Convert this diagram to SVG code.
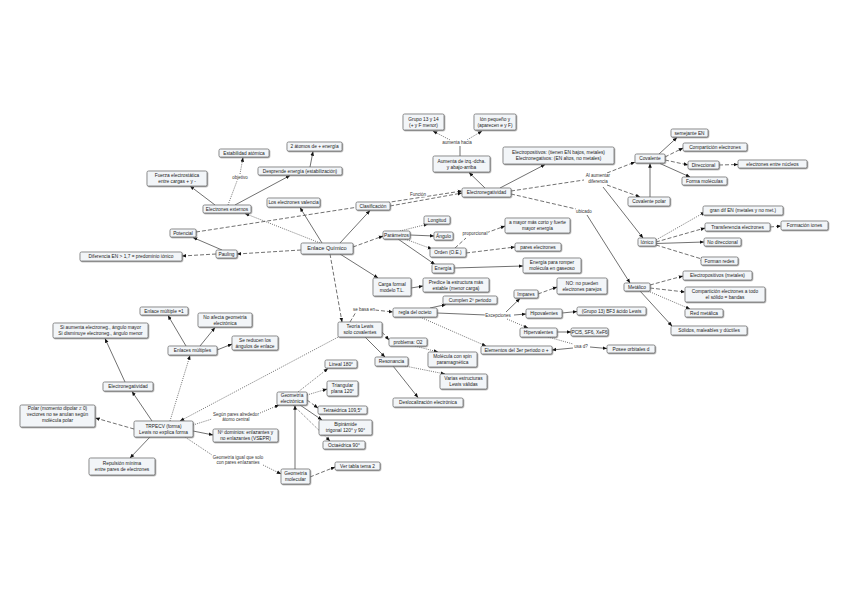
<svg xmlns="http://www.w3.org/2000/svg" width="848" height="599" viewBox="0 0 848 599">
<defs>
<marker id="a" viewBox="0 0 10 10" refX="9.5" refY="5" markerWidth="4.5" markerHeight="4.5" markerUnits="userSpaceOnUse" orient="auto"><path d="M0,1 L10,5 L0,9z" fill="#111"/></marker>
<filter id="sh" x="-10%" y="-20%" width="130%" height="160%"><feDropShadow dx="0.7" dy="0.8" stdDeviation="0.35" flood-color="#777" flood-opacity="0.8"/></filter>
<style>
.n rect{fill:#f2f5f8;stroke:#666;stroke-width:0.7;filter:url(#sh)}
.n text,.l{font-family:"Liberation Sans",Arial,sans-serif;font-size:4.8px;fill:#222;text-anchor:middle}
.l{font-size:4.5px;fill:#333;paint-order:stroke;stroke:#fff;stroke-width:1.4px}
#c path{fill:none;stroke:#333;stroke-width:0.7}
#c .d{stroke-dasharray:4 2}
#c .o{stroke-dasharray:1 1.2}
#c .m{marker-end:url(#a)}
</style>
</defs>
<rect width="848" height="599" fill="#fff"/>

<g id="c">
<path class="m" d="M485,188 L469,172.5"/>
<path d="M460,156 L460,146"/>
<path class="o m" d="M450,140 L433,131"/>
<path class="o m" d="M467,140 L482,131"/>
<path class="m" d="M500,188 L545,164.5"/>
<path class="d m" d="M196,232 L462,191"/>
<path class="d m" d="M390,206 L462,193"/>
<path class="d" d="M511,191 L584,180"/>
<path class="d m" d="M607,173 L635,162"/>
<path class="d m" d="M607,185 L640,197"/>
<path class="m" d="M603,187 L643,238"/>
<path class="d" d="M511,194 L576,209"/>
<path class="m" d="M587,215 L630,283"/>
<path class="m" d="M650,197 L650,163.5"/>
<path class="m" d="M659,154 L677,137.5"/>
<path class="d m" d="M665,157 L683,148"/>
<path class="d m" d="M665,160 L688,165"/>
<path class="m" d="M660,163.5 L690,177"/>
<path class="d m" d="M719,165 L738,164.5"/>
<path class="o m" d="M656,240 L705,212"/>
<path class="d m" d="M656,242 L705,228"/>
<path class="m" d="M656,243.5 L704,242"/>
<path class="d m" d="M656,245 L705,260"/>
<path class="d m" d="M770,227 L781,226"/>
<path class="d m" d="M650,285 L683,276"/>
<path class="d m" d="M650,288 L685,292"/>
<path class="o m" d="M648,291 L690,309"/>
<path class="m" d="M640,291 L672,326"/>

<path class="o m" d="M320,243 L245,213.5"/>
<path class="m" d="M322,243 L300,207.5"/>
<path class="m" d="M340,243 L370,210.5"/>
<path class="d m" d="M301,250 L237,254"/>
<path class="d m" d="M353,247 L383,236"/>
<path class="m" d="M340,254 L378,278"/>
<path class="d m" d="M330,254 L342,322"/>
<path class="m" d="M215,205 L190,186"/>
<path class="o" d="M228,205 L237,181"/>
<path class="o m" d="M240,174 L243,157.5"/>
<path class="m" d="M235,205 L290,175.5"/>
<path class="m" d="M310,167 L313,151.5"/>
<path class="m" d="M222,250 L193,237.5"/>
<path class="d m" d="M216,254 L182,256"/>
<path class="o m" d="M400,231 L428,224"/>
<path class="m" d="M410,235 L434,236"/>
<path class="o m" d="M405,239 L432,249"/>
<path class="m" d="M398,239 L435,264.5"/>
<path class="d" d="M455,248 L466,238"/>
<path class="d m" d="M486,233 L505,226"/>
<path class="d m" d="M466,253 L515,247"/>
<path class="m" d="M454,268 L523,266"/>
<path class="m" d="M411,288 L423,286"/>
<path class="d" d="M350,322 L356,312"/>
<path class="d m" d="M375,310 L393,312"/>
<path class="m" d="M430,308 L446,304.5"/>
<path d="M437,313 L486,315"/>
<path class="m" d="M506,312 L520,298.5"/>
<path class="m" d="M514,315 L526,314"/>
<path class="o m" d="M507,319 L528,328"/>
<path class="o m" d="M420,317 L486,346"/>
<path class="d m" d="M538,294 L557,287"/>
<path class="m" d="M562,313 L577,311.5"/>
<path class="m" d="M557,332 L571,332"/>
<path class="o" d="M548,337 L573,344"/>
<path class="m" d="M590,347 L607,348.5"/>
<path class="m" d="M573,348 L552,350"/>
<path class="d m" d="M382,332 L389,340"/>
<path class="o m" d="M415,346 L438,352"/>
<path class="m" d="M365,337 L385,357"/>
<path class="o m" d="M405,366 L445,374"/>
<path class="m" d="M393,366 L418,397.5"/>
<path class="o m" d="M342,335 L180,421"/>

<path class="m" d="M152,421 L132,391.5"/>
<path class="o m" d="M170,421 L190,355.5"/>
<path class="d m" d="M134,429 L95.5,418"/>
<path class="m" d="M150,437 L130,458"/>
<path class="o" d="M193,425 L212,419"/>
<path class="o m" d="M260,413 L279,405"/>
<path class="m" d="M193,431 L213,435"/>
<path class="o" d="M185,437 L212,455"/>
<path class="o m" d="M263,465 L281,474"/>
<path class="m" d="M125,382 L105,338.5"/>
<path class="m" d="M186,346 L168,315.5"/>
<path class="m" d="M200,346 L215,327.5"/>
<path class="m" d="M217,350 L232,344"/>
<path class="o m" d="M298,392 L328,368.5"/>
<path class="o m" d="M307,395 L327,389"/>
<path class="d m" d="M307,400 L318,408"/>
<path class="m" d="M300,405 L322,420"/>
<path class="o m" d="M293,405 L330,441"/>
<path class="m" d="M295,469 L295,405.5"/>
<path class="d m" d="M310,477 L335,467"/>
</g>

<g id="labels">
<text class="l" x="457" y="143.5">aumenta hacia</text>
<text class="l" x="418" y="195.5">Función</text>
<text class="l" x="598" y="177">Al aumentar</text>
<text class="l" x="598" y="183">diferencia</text>
<text class="l" x="584" y="212.5">ubicado</text>
<text class="l" x="240" y="178.5">objetivo</text>
<text class="l" x="475" y="235">proporcional</text>
<text class="l" x="364" y="310.5">se basa en</text>
<text class="l" x="498" y="317">Excepciones</text>
<text class="l" x="581" y="348">usa d?</text>
<text class="l" x="236" y="415.5">Según pares alrededor</text>
<text class="l" x="236" y="421.3">átomo central</text>
<text class="l" x="238" y="458.5">Geometría igual que solo</text>
<text class="l" x="238" y="464.3">con pares enlazantes</text>
</g>

<g id="n-grupo" class="n"><rect x="403" y="114" width="41" height="16" rx="1.5"/><text x="423.5" y="120.8">Grupo 13 y 14</text><text x="423.5" y="126.6">(+ y F menor)</text></g>
<g id="n-ion" class="n"><rect x="474" y="114" width="42" height="16" rx="1.5"/><text x="495" y="120.8">Ión pequeño y</text><text x="495" y="126.6">(aparecen e y F)</text></g>
<g id="n-aumenta" class="n"><rect x="433" y="156" width="57" height="16" rx="1.5"/><text x="461.5" y="162.8">Aumenta de izq.-dcha.</text><text x="461.5" y="168.6">y abajo-arriba</text></g>
<g id="n-electro" class="n"><rect x="503" y="147" width="111" height="17" rx="1.5"/><text x="558.5" y="154.3">Electropositivos: (tienen EN bajos, metales)</text><text x="558.5" y="160.1">Electronegativos: (EN altos, no metales)</text></g>
<g id="n-en" class="n"><rect x="462" y="188" width="49" height="9" rx="1.5"/><text x="486.5" y="194.2">Electronegatividad</text></g>
<g id="n-cov" class="n"><rect x="635" y="154" width="30" height="9" rx="1.5"/><text x="650" y="160.2">Covalente</text></g>
<g id="n-covpol" class="n"><rect x="628" y="197" width="42" height="9" rx="1.5"/><text x="649" y="203.2">Covalente polar</text></g>
<g id="n-semej" class="n"><rect x="671" y="129" width="37" height="8" rx="1.5"/><text x="689.5" y="134.7">semejante EN</text></g>
<g id="n-compart" class="n"><rect x="683" y="143" width="64" height="8" rx="1.5"/><text x="715" y="148.7">Compartición electrones</text></g>
<g id="n-direc" class="n"><rect x="688" y="161" width="31" height="8" rx="1.5"/><text x="703.5" y="166.7">Direccional</text></g>
<g id="n-nucleos" class="n"><rect x="738" y="160" width="69" height="8" rx="1.5"/><text x="772.5" y="165.7">electrones entre núcleos</text></g>
<g id="n-formamol" class="n"><rect x="682" y="177" width="45" height="8" rx="1.5"/><text x="704.5" y="182.7">Forma moléculas</text></g>
<g id="n-ionico" class="n"><rect x="638" y="238" width="18" height="8" rx="1.5"/><text x="647" y="243.7">Iónico</text></g>
<g id="n-gran" class="n"><rect x="703" y="206" width="80" height="9" rx="1.5"/><text x="743" y="212.2">gran dif EN (metales y no met.)</text></g>
<g id="n-transf" class="n"><rect x="705" y="223" width="65" height="8" rx="1.5"/><text x="737.5" y="228.7">Transferencia electrones</text></g>
<g id="n-iones" class="n"><rect x="781" y="221" width="47" height="9" rx="1.5"/><text x="804.5" y="227.2">Formación iones</text></g>
<g id="n-nodir" class="n"><rect x="704" y="238" width="37" height="8" rx="1.5"/><text x="722.5" y="243.7">No direccional</text></g>
<g id="n-redes" class="n"><rect x="701" y="257" width="37" height="8" rx="1.5"/><text x="719.5" y="262.7">Forman redes</text></g>
<g id="n-metal" class="n"><rect x="624" y="283" width="26" height="8" rx="1.5"/><text x="637" y="288.7">Metálico</text></g>
<g id="n-elpos" class="n"><rect x="683" y="271" width="69" height="9" rx="1.5"/><text x="717.5" y="277.2">Electropositivos (metales)</text></g>
<g id="n-bandas" class="n"><rect x="685" y="287" width="80" height="15" rx="1.5"/><text x="725" y="293.3">Compartición electrones a todo</text><text x="725" y="299.1">el sólido = bandas</text></g>
<g id="n-nube" class="n"><rect x="685" y="309" width="38" height="8" rx="1.5"/><text x="704" y="314.7">Red metálica</text></g>
<g id="n-solidos" class="n"><rect x="671" y="326" width="76" height="9" rx="1.5"/><text x="709" y="332.2">Sólidos, maleables y dúctiles</text></g>

<g id="n-eq" class="n"><rect x="301" y="243" width="52" height="11" rx="1.5"/><text x="327" y="250.3" style="font-size:5.6px">Enlace Químico</text></g>
<g id="n-clasif" class="n"><rect x="356" y="202" width="34" height="8" rx="1.5"/><text x="373" y="207.7">Clasificación</text></g>
<g id="n-valencia" class="n"><rect x="267" y="198" width="53" height="9" rx="1.5"/><text x="293.5" y="204.2">Los electrones valencia</text></g>
<g id="n-externos" class="n"><rect x="203" y="205" width="48" height="8" rx="1.5"/><text x="227" y="210.7">Electrones externos</text></g>
<g id="n-estab" class="n"><rect x="219" y="149" width="50" height="8" rx="1.5"/><text x="244" y="154.7">Estabilidad atómica</text></g>
<g id="n-2atomos" class="n"><rect x="287" y="142" width="55" height="9" rx="1.5"/><text x="314.5" y="148.2">2 átomos de + energía</text></g>
<g id="n-fuerza" class="n"><rect x="147" y="171" width="60" height="15" rx="1.5"/><text x="177" y="177.3">Fuerza electrostática</text><text x="177" y="183.1">entre cargas + y -</text></g>
<g id="n-desp" class="n"><rect x="258" y="167" width="84" height="8" rx="1.5"/><text x="300" y="172.7">Desprende energía (estabilización)</text></g>
<g id="n-pot" class="n"><rect x="170" y="229" width="26" height="8" rx="1.5"/><text x="183" y="234.7">Potencial</text></g>
<g id="n-pauling" class="n"><rect x="216" y="250" width="21" height="8" rx="1.5"/><text x="226.5" y="255.7">Pauling</text></g>
<g id="n-dif" class="n"><rect x="80" y="252" width="102" height="9" rx="1.5"/><text x="131" y="258.2">Diferencia EN &gt; 1,7 = predominio iónico</text></g>
<g id="n-param" class="n"><rect x="383" y="231" width="27" height="8" rx="1.5"/><text x="396.5" y="236.7">Parámetros</text></g>
<g id="n-long" class="n"><rect x="424" y="216" width="26" height="8" rx="1.5"/><text x="437" y="221.7">Longitud</text></g>
<g id="n-ang" class="n"><rect x="434" y="232" width="19" height="8" rx="1.5"/><text x="443.5" y="237.7">Ángulo</text></g>
<g id="n-orden" class="n"><rect x="430" y="248" width="36" height="9" rx="1.5"/><text x="448" y="254.2">Orden (O.E.)</text></g>
<g id="n-energia" class="n"><rect x="432" y="264" width="22" height="9" rx="1.5"/><text x="443" y="270.2">Energía</text></g>
<g id="n-amayor" class="n"><rect x="505" y="218" width="65" height="15" rx="1.5"/><text x="537.5" y="224.3">a mayor más corto y fuerte</text><text x="537.5" y="230.1">mayor energía</text></g>
<g id="n-pares" class="n"><rect x="515" y="243" width="46" height="8" rx="1.5"/><text x="538" y="248.7">pares electrones</text></g>
<g id="n-eromper" class="n"><rect x="523" y="258" width="58" height="15" rx="1.5"/><text x="552" y="264.3">Energía para romper</text><text x="552" y="270.1">molécula en gaseoso</text></g>
<g id="n-carga" class="n"><rect x="373" y="278" width="38" height="18" rx="1.5"/><text x="392" y="285.8">Carga formal</text><text x="392" y="291.6">modelo T.L.</text></g>
<g id="n-predice" class="n"><rect x="423" y="278" width="66" height="14" rx="1.5"/><text x="456" y="283.8">Predice la estructura más</text><text x="456" y="289.6">estable (menor carga)</text></g>
<g id="n-cumplen" class="n"><rect x="443" y="296" width="54" height="8" rx="1.5"/><text x="470" y="301.7">Cumplen 2º periodo</text></g>
<g id="n-octeto" class="n"><rect x="393" y="308" width="44" height="9" rx="1.5"/><text x="415" y="314.2">regla del octeto</text></g>
<g id="n-lewis" class="n"><rect x="338" y="322" width="44" height="15" rx="1.5"/><text x="360" y="328.3">Teoría Lewis</text><text x="360" y="334.1">solo covalentes</text></g>
<g id="n-impares" class="n"><rect x="514" y="290" width="24" height="8" rx="1.5"/><text x="526" y="295.7">Impares</text></g>
<g id="n-nopueden" class="n"><rect x="557" y="278" width="50" height="16" rx="1.5"/><text x="582" y="284.8">NO: no pueden</text><text x="582" y="290.6">electrones parejos</text></g>
<g id="n-hipo" class="n"><rect x="526" y="309" width="36" height="9" rx="1.5"/><text x="544" y="315.2">Hipovalentes</text></g>
<g id="n-bf3" class="n"><rect x="577" y="307" width="69" height="8" rx="1.5"/><text x="611.5" y="312.7">(Grupo 13) BF3 ácido Lewis</text></g>
<g id="n-hiper" class="n"><rect x="520" y="328" width="37" height="9" rx="1.5"/><text x="538.5" y="334.2">Hipervalentes</text></g>
<g id="n-pcl5" class="n"><rect x="571" y="328" width="37" height="8" rx="1.5"/><text x="589.5" y="333.7">PCl5, SF6, XeF6</text></g>
<g id="n-orbd" class="n"><rect x="607" y="345" width="48" height="8" rx="1.5"/><text x="631" y="350.7">Posee orbitales d</text></g>
<g id="n-3per" class="n"><rect x="481" y="346" width="71" height="8" rx="1.5"/><text x="516.5" y="351.7">Elementos del 3er periodo o +</text></g>
<g id="n-probo2" class="n"><rect x="389" y="338" width="38" height="8" rx="1.5"/><text x="408" y="343.7">problema: O2</text></g>
<g id="n-molec" class="n"><rect x="428" y="352" width="49" height="15" rx="1.5"/><text x="452.5" y="358.3">Molécula con spin</text><text x="452.5" y="364.1">paramagnética</text></g>
<g id="n-reson" class="n"><rect x="375" y="357" width="33" height="9" rx="1.5"/><text x="391.5" y="363.2">Resonancia</text></g>
<g id="n-varias" class="n"><rect x="440" y="374" width="47" height="15" rx="1.5"/><text x="463.5" y="380.3">Varias estructuras</text><text x="463.5" y="386.1">Lewis válidas</text></g>
<g id="n-desloc" class="n"><rect x="393" y="398" width="70" height="9" rx="1.5"/><text x="428" y="404.2">Deslocalización electrónica</text></g>

<g id="n-mult1" class="n"><rect x="140" y="307" width="48" height="8" rx="1.5"/><text x="164" y="312.7">Enlace múltiple =1</text></g>
<g id="n-noafecta" class="n"><rect x="198" y="313" width="54" height="14" rx="1.5"/><text x="225" y="318.8">No afecta geometría</text><text x="225" y="324.6">electrónica</text></g>
<g id="n-reduce" class="n"><rect x="232" y="336" width="46" height="14" rx="1.5"/><text x="255" y="341.8">Se reducen los</text><text x="255" y="347.6">ángulos de enlace</text></g>
<g id="n-multiples" class="n"><rect x="168" y="346" width="49" height="9" rx="1.5"/><text x="192.5" y="352.2">Enlaces múltiples</text></g>
<g id="n-siaum" class="n"><rect x="53" y="323" width="95" height="15" rx="1.5"/><text x="100.5" y="329.3">Si aumenta electroneg., ángulo mayor</text><text x="100.5" y="335.1">Si disminuye electroneg., ángulo menor</text></g>
<g id="n-en2" class="n"><rect x="103" y="382" width="50" height="9" rx="1.5"/><text x="128" y="388.2">Electronegatividad</text></g>
<g id="n-polar" class="n"><rect x="20" y="405" width="75" height="22" rx="1.5"/><text x="57.5" y="410">Polar (momento dipolar ≠ 0)</text><text x="57.5" y="415.8">vectores no se anulan según</text><text x="57.5" y="421.6">molécula polar</text></g>
<g id="n-trpecv" class="n"><rect x="134" y="421" width="59" height="16" rx="1.5"/><text x="163.5" y="427.8">TRPECV (forma)</text><text x="163.5" y="433.6">Lewis no explica forma</text></g>
<g id="n-repuls" class="n"><rect x="89" y="458" width="66" height="17" rx="1.5"/><text x="122" y="465.3">Repulsión mínima</text><text x="122" y="471.1">entre pares de electrones</text></g>
<g id="n-ndom" class="n"><rect x="213" y="429" width="65" height="13" rx="1.5"/><text x="245.5" y="434.3">Nº dominios: enlazantes y</text><text x="245.5" y="440.1">no enlazantes (VSEPR)</text></g>
<g id="n-geoel" class="n"><rect x="277" y="392" width="30" height="13" rx="1.5"/><text x="292" y="397.3">Geometría</text><text x="292" y="403.1">electrónica</text></g>
<g id="n-lineal" class="n"><rect x="325" y="360" width="32" height="8" rx="1.5"/><text x="341" y="365.7">Lineal 180°</text></g>
<g id="n-trian" class="n"><rect x="327" y="381" width="31" height="15" rx="1.5"/><text x="342.5" y="387.3">Triangular</text><text x="342.5" y="393.1">plana 120°</text></g>
<g id="n-tetra" class="n"><rect x="318" y="406" width="49" height="8" rx="1.5"/><text x="342.5" y="411.7">Tetraédrica 109,5°</text></g>
<g id="n-bipir" class="n"><rect x="319" y="420" width="53" height="15" rx="1.5"/><text x="345.5" y="426.3">Bipirámide</text><text x="345.5" y="432.1">trigonal 120° y 90°</text></g>
<g id="n-octa" class="n"><rect x="323" y="441" width="42" height="8" rx="1.5"/><text x="344" y="446.7">Octaédrica 90°</text></g>
<g id="n-geomol" class="n"><rect x="281" y="469" width="29" height="15" rx="1.5"/><text x="295.5" y="475.3">Geometría</text><text x="295.5" y="481.1">molecular</text></g>
<g id="n-vertabla" class="n"><rect x="335" y="462" width="45" height="8" rx="1.5"/><text x="357.5" y="467.7">Ver tabla tema 2</text></g>
</svg>
